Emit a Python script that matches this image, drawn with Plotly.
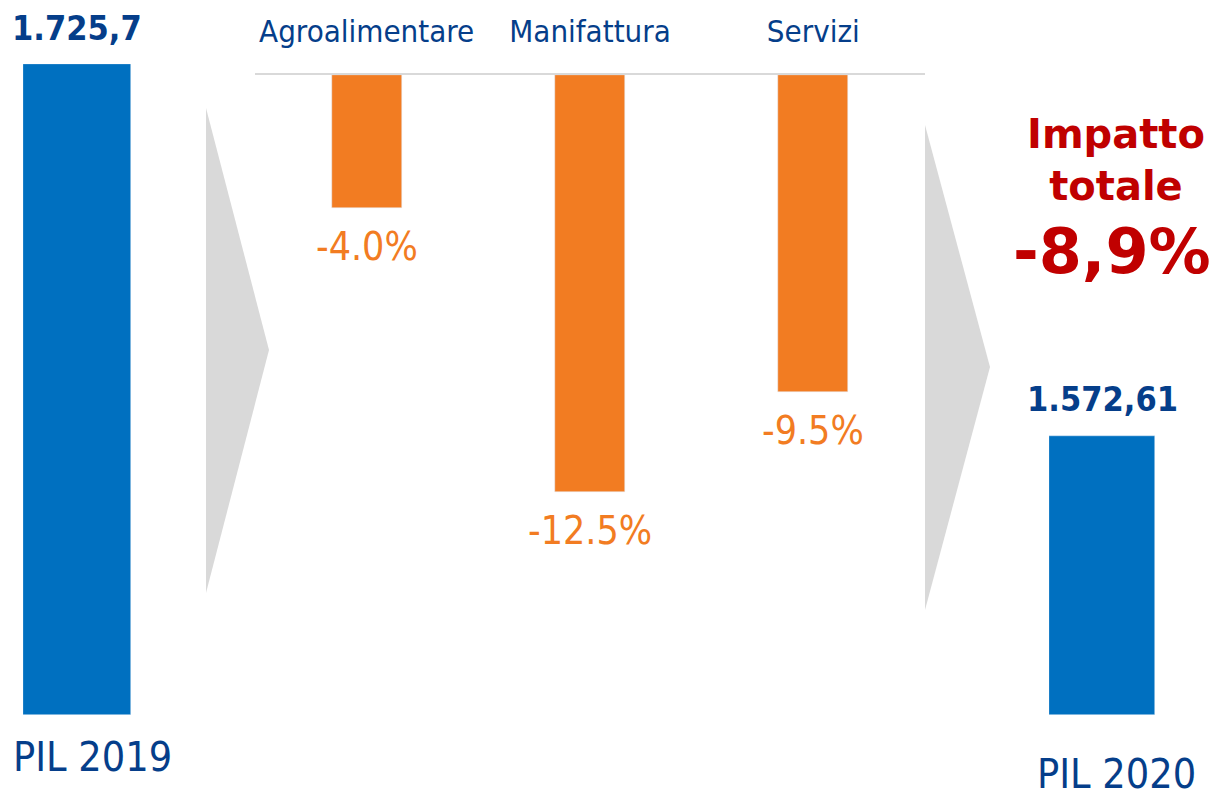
import plotly.graph_objects as go

# ---- data ----
pil_labels = ["PIL 2019", "PIL 2020"]
pil_values = [1725.7, 1572.61]
pil_value_text = ["1.725,7", "1.572,61"]
sectors = ["Agroalimentare", "Manifattura", "Servizi"]
sector_impact = [-4.0, -12.5, -9.5]
total_impact_text = "-8,9%"

# page body has an 8px margin, so the figure is drawn 8px in from the corner
OFF = 8
W, H = 1221 - OFF, 793 - OFF
def px_x(p):
    return (p - OFF) / W
def px_y(p):
    return 1 - (p - OFF) / H

BLUE = "#0070c0"
DARK_BLUE = "#053e8a"
ORANGE = "#f27c22"
RED = "#c00000"
GREY = "#d9d9d9"
FONT = "DejaVu Sans"
CFONT = "DejaVu Sans Condensed"

fig = go.Figure()

# left bar
fig.add_trace(go.Bar(x=[pil_labels[0]], y=[pil_values[0]], marker_color=BLUE, width=1,
                     xaxis="x", yaxis="y", showlegend=False, hoverinfo="skip"))
# sector bars
fig.add_trace(go.Bar(x=sectors, y=sector_impact, marker_color=ORANGE, width=0.313,
                     xaxis="x2", yaxis="y2", showlegend=False, hoverinfo="skip"))
# right bar
fig.add_trace(go.Bar(x=[pil_labels[1]], y=[pil_values[1]], marker_color=BLUE, width=1,
                     xaxis="x3", yaxis="y3", showlegend=False, hoverinfo="skip"))

ydom = [px_y(715), px_y(64)]
hidden = dict(showgrid=False, zeroline=False, showticklabels=False, showline=False, ticks="")

fig.update_layout(
    width=W, height=H,
    margin=dict(l=0, r=0, t=0, b=0),
    paper_bgcolor="white", plot_bgcolor="rgba(0,0,0,0)",
    font=dict(family=FONT),
    bargap=0,
    xaxis=dict(domain=[px_x(23), px_x(131)], range=[-0.5, 0.5], anchor="y", **hidden),
    yaxis=dict(domain=ydom, range=[0, pil_values[0]], anchor="x", **hidden),
    xaxis2=dict(domain=[px_x(255), px_x(925)], anchor="y2", side="top",
                showgrid=False, zeroline=False, showline=True, linecolor=GREY, linewidth=2,
                ticks="", ticklabelstandoff=19,
                tickfont=dict(family=CFONT, size=31, color=DARK_BLUE)),
    yaxis2=dict(domain=[px_y(715), px_y(75)], range=[-19.19, 0], anchor="x2", **hidden),
    xaxis3=dict(domain=[px_x(1049), px_x(1155)], range=[-0.5, 0.5], anchor="y3", **hidden),
    yaxis3=dict(domain=ydom, range=[0, 3670], anchor="x3", **hidden),
)

# grey arrows (decorative)
def arrow(x0, ytop, ybot, xtip, ytip):
    return dict(type="path", xref="paper", yref="paper",
                path=f"M {px_x(x0)} {px_y(ytop)} L {px_x(xtip)} {px_y(ytip)} L {px_x(x0)} {px_y(ybot)} Z",
                fillcolor=GREY, line=dict(width=0), layer="below")
fig.add_shape(arrow(206, 108, 593, 269, 350))
fig.add_shape(arrow(925, 125, 610, 990, 367))

# value labels
fig.add_annotation(x=pil_labels[0], y=pil_values[0], xref="x", yref="y", text=pil_value_text[0],
                   showarrow=False, yanchor="bottom", yshift=14,
                   font=dict(family=CFONT, size=34, color=DARK_BLUE, weight="bold"))
fig.add_annotation(x=pil_labels[1], y=pil_values[1], xref="x3", yref="y3", text=pil_value_text[1],
                   showarrow=False, yanchor="bottom", yshift=15,
                   font=dict(family=CFONT, size=34, color=DARK_BLUE, weight="bold"))
for s, v in zip(sectors, sector_impact):
    fig.add_annotation(x=s, y=v, xref="x2", yref="y2", text=f"{v:.1f}%",
                       showarrow=False, yanchor="top", yshift=-14,
                       font=dict(family=CFONT, size=39, color=ORANGE))

# category labels under blue bars
fig.add_annotation(x=px_x(92), y=px_y(757), xref="paper", yref="paper", text=pil_labels[0],
                   showarrow=False, xanchor="center", yanchor="middle",
                   font=dict(family=CFONT, size=41, color=DARK_BLUE))
fig.add_annotation(x=px_x(1116), y=px_y(774), xref="paper", yref="paper", text=pil_labels[1],
                   showarrow=False, xanchor="center", yanchor="middle",
                   font=dict(family=CFONT, size=41, color=DARK_BLUE))

# total impact
fig.add_annotation(x=px_x(1116), y=px_y(160), xref="paper", yref="paper",
                   text="Impatto<br>totale", showarrow=False, xanchor="center", yanchor="middle",
                   font=dict(family=FONT, size=40, color=RED, weight="bold"))
fig.add_annotation(x=px_x(1112), y=px_y(252), xref="paper", yref="paper",
                   text=total_impact_text, showarrow=False, xanchor="center", yanchor="middle",
                   font=dict(family=FONT, size=62, color=RED, weight="bold"))

fig.write_html("out.html")
